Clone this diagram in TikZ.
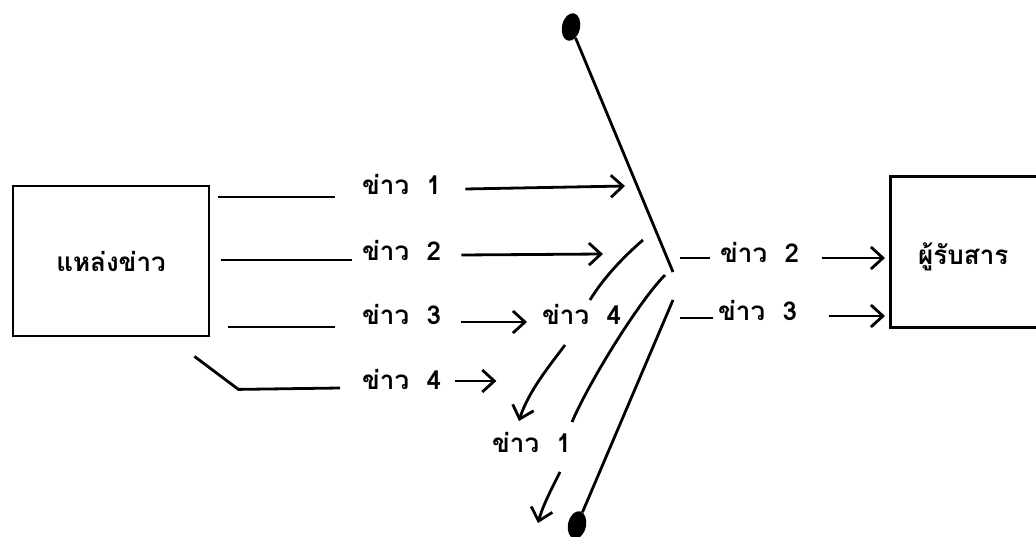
\documentclass[tikz,border=0pt]{standalone}
\usepackage{fontspec}
\newfontfamily\thaifont[Script=Thai]{Loma}
\usetikzlibrary{arrows.meta, positioning, shapes.geometric}

\tikzset{
  news/.style={font=\thaifont\bfseries\fontsize{26}{30}\selectfont, inner sep=0pt, text height=0.5em, text depth=0pt, anchor=west},
  flow/.style={line width=2.8pt},
  flowarr/.style={flow, -{Straight Barb[length=12pt, width=22pt]}},
  boxnode/.style={draw, line width=2.8pt, inner sep=0pt},
  gatedot/.style={ellipse, fill=black, minimum width=18pt, minimum height=28pt, inner sep=0pt}
}

\begin{document}
\begin{tikzpicture}[x=1pt, y=-1pt]
    \useasboundingbox (0,0) rectangle (1036,537);
    \clip (0,0) rectangle (1036,537);
    % Boxes
    \node[boxnode, minimum width=196pt, minimum height=150pt, font=\thaifont\bfseries\fontsize{26}{30}\selectfont] (src) at (111,261) {แหล่งข่าว};
    \node[boxnode, anchor=north west, minimum width=160pt, minimum height=151pt] (recv) at (889,175) {};
    \node[news] (recvlbl) at (918,262) {ผู้รับสาร};
    % Labels
    \node[news] (l1) at (362,192) {ข่าว~~1};
    \node[news] (l2) at (362,258) {ข่าว~~2};
    \node[news] (l3) at (362,322) {ข่าว~~3};
    \node[news] (l4) at (362,387) {ข่าว~~4};
    \node[news] (l4b) at (542,322) {ข่าว~~4};
    \node[news] (l1b) at (492,450) {ข่าว~~1};
    \node[news] (r2) at (720,260) {ข่าว~~2};
    \node[news] (r3) at (718,318) {ข่าว~~3};
    % Gatekeeper
    \node[gatedot, rotate=-12] (dtop) at (571,27) {};
    \node[gatedot, rotate=-12] (dbot) at (577,525) {};
    \coordinate (gk) at (673,272);
    \coordinate (g1) at (625,186);
    \coordinate (g2) at (603,254);
    \draw[flow] (dtop) -- (gk);
    \draw[flow] (673,300) -- (dbot);
    % Left side
    \draw[flow] ([xshift=8pt,yshift=-5pt]src.east |- l1.west) -- ([xshift=-27pt,yshift=-5pt]l1.west);
    \draw[flowarr] ([xshift=24pt,yshift=3pt]l1.east) -- (g1);
    \draw[flow] ([xshift=11pt,yshift=-2pt]src.east |- l2.west) -- ([xshift=-10pt,yshift=-2pt]l2.west);
    \draw[flowarr] ([xshift=20pt,yshift=3pt]l2.east) -- (g2);
    \draw[flow] ([xshift=18pt,yshift=-5pt]src.east |- l3.west) -- ([xshift=-27pt,yshift=-5pt]l3.west);
    \draw[flowarr] ([xshift=20pt]l3.east) -- ([xshift=-15pt]l4b.west);
    \draw[flow] ([xshift=-16pt,yshift=-19pt]src.south east) -- ++(44,33) -- ([xshift=-22pt,yshift=-1pt]l4.west);
    \draw[flowarr] ([xshift=14pt,yshift=6pt]l4.east) -- ++(41,0);
    % Rejected news
    \draw[flow] (643,240) .. controls (622,258) and (602,280) .. (590,300);
    \draw[flow] (665,275) .. controls (640,300) and (590,380) .. (572,422);
    \draw[flowarr] (565,345) .. controls (550,365) and (528,392) .. (519,421);
    \draw[flowarr] (560,472) .. controls (552,488) and (543,505) .. (538,523);
    % Right side
    \draw[flow] ([xshift=-40pt,yshift=2pt]r2.west) -- ([xshift=-10pt,yshift=2pt]r2.west);
    \draw[flowarr] ([xshift=23pt,yshift=2pt]r2.east) -- ([xshift=-4pt]recv.west |- 0,258);
    \draw[flow] ([xshift=-38pt]r3.west) -- ([xshift=-5pt]r3.west);
    \draw[flowarr] ([xshift=32pt,yshift=2pt]r3.east) -- ([xshift=-4pt]recv.west |- 0,316);
  \end{tikzpicture}
\end{document}
